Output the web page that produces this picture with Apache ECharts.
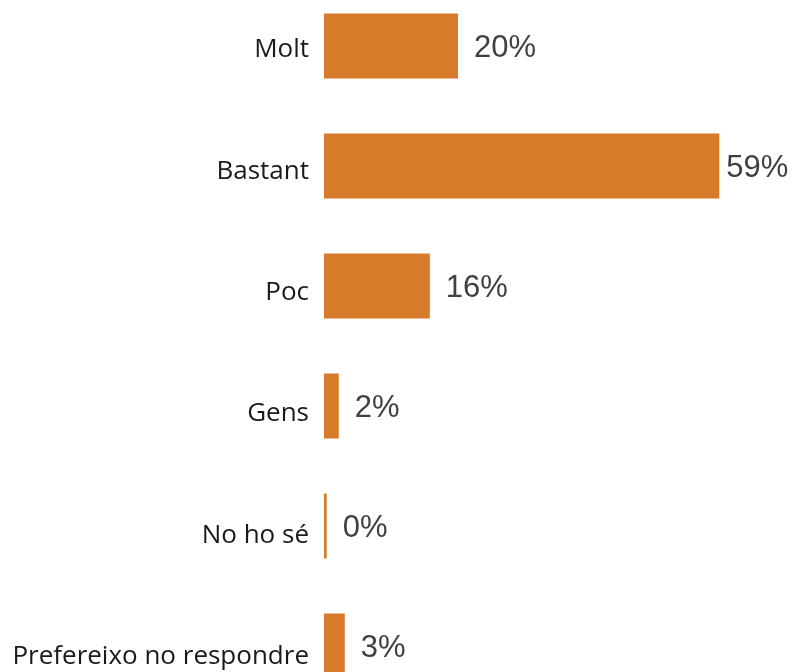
<!DOCTYPE html>
<html>
<head>
<meta charset="utf-8">
<script src="https://cdn.jsdelivr.net/npm/echarts@6/dist/echarts.min.js"></script>
<style>
  html, body { margin: 0; padding: 0; background: #fff; }
  #chart { width: 794px; height: 672px; }
</style>
</head>
<body>
<div id="chart"></div>
<script>
// respostes
const categories = ["Molt", "Bastant", "Poc", "Gens", "No ho sé", "Prefereixo no respondre"];
const values = [20.0, 59.0, 15.8, 2.2, 0.4, 3.1];

// les etiquetes de categoria queden una mica per sota del centre de la barra
const catRich = {};
categories.forEach((c, i) => {
  catRich["c" + i] = {
    fontFamily: "Open Sans",
    fontSize: 26,
    color: "#1a1a1a",
    padding: [Math.round(2 * (4 + 1.4 * i)), 0, 0, 0],
  };
});

const chart = echarts.init(document.getElementById("chart"));
chart.setOption({
  animation: false,
  grid: {
    left: 324,
    width: 469,
    top: -14,
    height: 720,
    outerBoundsMode: "none",
  },
  xAxis: {
    type: "value",
    min: 0,
    max: 70,
    show: false,
  },
  yAxis: {
    type: "category",
    inverse: true,
    data: categories,
    axisLine: { show: false },
    axisTick: { show: false },
    axisLabel: {
      margin: 15,
      formatter: (v, i) => "{c" + i + "|" + v + "}",
      rich: catRich,
    },
  },
  series: [
    {
      type: "bar",
      // la barra llarga té l'etiqueta més a prop
      data: values.map((v) => (v > 50 ? { value: v, label: { distance: 7 } } : v)),
      barWidth: 65,
      color: "#D77B2A",
      label: {
        show: true,
        position: "right",
        distance: 16,
        formatter: (p) => "{v|" + Math.round(p.value) + "%}",
        rich: {
          v: {
            fontFamily: "Liberation Sans",
            fontSize: 31,
            color: "#404040",
            padding: [4, 0, 0, 0],
          },
        },
      },
    },
  ],
});
</script>
</body>
</html>
